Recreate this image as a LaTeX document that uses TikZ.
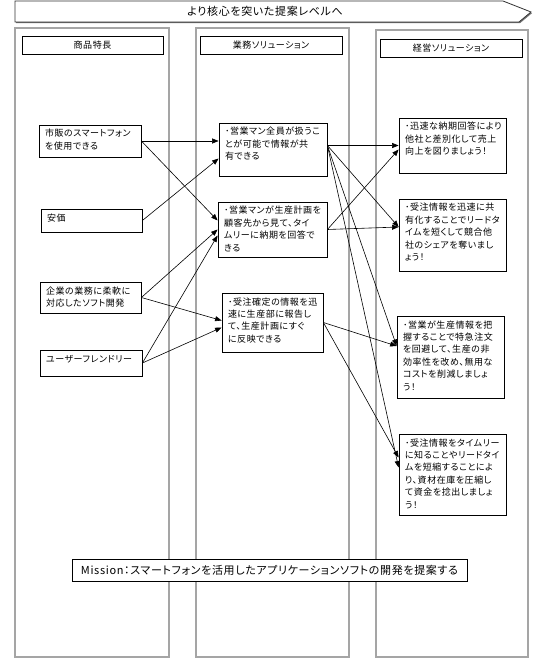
\documentclass[tikz,border=0pt]{standalone}
\usepackage{fontspec}
\setmainfont{Noto Sans CJK JP}[RawFeature=+palt,LetterSpace=6]
\usetikzlibrary{arrows.meta,calc,shadows}
\definecolor{lanegray}{RGB}{165,165,165}
\newcommand{\bul}{\hangindent=4.5pt\hangafter=1 ･}

\begin{document}
\begin{tikzpicture}[x=1pt,y=-1pt,
      lane/.style={draw=lanegray,line width=1.6pt},
      banner/.style={draw=black!80,line width=0.8pt,drop shadow={shadow xshift=1pt,shadow yshift=-1.2pt,fill=black!55,opacity=1}},
      head/.style={draw,fill=white,line width=0.8pt,minimum height=18pt,inner sep=2pt,font=\fontsize{9}{10}\selectfont},
      card/.style 2 args={draw,fill=white,line width=0.8pt,text width=#1,text height=8pt,text depth=#2,
        align=left,inner xsep=6pt,inner ysep=4pt,
        font=\fontsize{9}{12.4}\selectfont,
        drop shadow={shadow xshift=1pt,shadow yshift=-1pt,fill=black!50,opacity=1}},
      link/.style={-{Triangle[length=6.5pt,width=5pt]},line width=0.6pt},
    ]
      \useasboundingbox (0,0) rectangle (550,660);

      % Lanes
      \draw[lane] (15,28) rectangle (169,657);
      \draw[lane] (196,28) rectangle (349,657);
      \draw[lane] (376,30) rectangle (528,657);

      % Banner
      \draw[banner,fill=white] (15,1) -- (503,1) -- (531,12) -- (519,22) -- (15,22) -- cycle;
      \node[font=\fontsize{11}{12}\selectfont] (title) at (265,11.5) {より核心を突いた提案レベルへ};

      % Lane headers
      \node[head,minimum width=141pt] (h1) at (92.5,45) {商品特長};
      \node[head,minimum width=142pt] (h2) at (271,45) {業務ソリューション};
      \node[head,minimum width=142pt] (h3) at (451,48) {経営ソリューション};

      % 商品特長
      \node[card={90pt}{16pt}] (a) at (90,141) {市販のスマートフォン\\を使用できる};
      \node[card={89pt}{7pt}] (b) at (91.5,220.5) {安価};
      \node[card={89pt}{15pt}] (c) at (90.5,297.5) {企業の業務に柔軟に\\対応したソフト開発};
      \node[card={90pt}{10pt}] (d) at (91,363) {ユーザーフレンドリー};

      % 業務ソリューション
      \node[card={96pt}{37pt}] (m1) at (273,149.5)
        {\bul 営業マン全員が扱うこ\\とが可能で情報が共\\有できる};
      \node[card={97pt}{39pt}] (m2) at (272.5,229.5)
        {\bul 営業マンが生産計画を\\顧客先から見て、タイ\\ムリーに納期を回答で\\きる};
      \node[card={89pt}{43pt}] (m3) at (272.5,322.5)
        {\bul 受注確定の情報を迅\\速に生産部に報告し\\て、生産計画にすぐ\\に反映できる};

      % 経営ソリューション
      \node[card={95pt}{39pt}] (r1) at (452.5,145.5)
        {\bul 迅速な納期回答により\\他社と差別化して売上\\向上を図りましょう！};
      \node[card={95pt}{56pt}] (r2) at (452.5,235)
        {\bul 受注情報を迅速に共\\有化することでリードタ\\イムを短くして競合他\\社のシェアを奪いまし\\ょう！};
      \node[card={95pt}{66pt}] (r3) at (450.5,357)
        {\bul 営業が生産情報を把\\握することで特急注文\\を回避して、生産の非\\効率性を改め、無用な\\コストを削減しましょ\\う！};
      \node[card={95pt}{65pt}] (r4) at (452.5,474.5)
        {\bul 受注情報をタイムリー\\に知ることやリードタイ\\ムを短縮することによ\\り、資材在庫を圧縮し\\て資金を捻出しましょ\\う！};

      % Mission
      \node[draw,fill=white,line width=0.8pt,minimum width=395pt,minimum height=22pt,inner sep=2pt,
        font=\fontsize{11}{12}\selectfont,
        drop shadow={shadow xshift=1pt,shadow yshift=-1pt,fill=black!50,opacity=1}] (mission) at (269.5,570)
        {Mission：スマートフォンを活用したアプリケーションソフトの開発を提案する};

      % 商品特長 -> 業務ソリューション
      \draw[link] (a.east) -- (a.east -| m1.west);
      \draw[link] (a.east) -- ([yshift=9pt]m2.west);
      \draw[link] (b.east) -- ([yshift=-9pt]m1.west);
      \draw[link] (c.east) -- (m2.west);
      \draw[link] (c.east) -- ([yshift=2pt]m3.west);
      \draw[link] (d.east) -- ([yshift=-6pt]m2.west);
      \draw[link] (d.east) -- ([yshift=-5pt]m3.west);

      % 業務ソリューション -> 経営ソリューション
      \draw[link] ([yshift=4pt]m1.east) -- ([yshift=4pt]m1.east -| r1.west);
      \draw[link] ([yshift=4pt]m1.east) -- ([yshift=8pt]r2.west);
      \draw[link] ([yshift=4pt]m1.east) -- ([yshift=11pt]r3.west);
      \draw[link] ([yshift=4pt]m1.east) -- ([yshift=7pt]r4.west);
      \draw[link] (m2.east) -- ([yshift=-4pt]r1.west);
      \draw[link] (m2.east) -- ([yshift=8pt]r2.west);
      \draw[link] (m3.east) -- ([yshift=11pt]r3.west);
      \draw[link] (m3.east) -- ([yshift=17pt]r4.west);
    \end{tikzpicture}
\end{document}
